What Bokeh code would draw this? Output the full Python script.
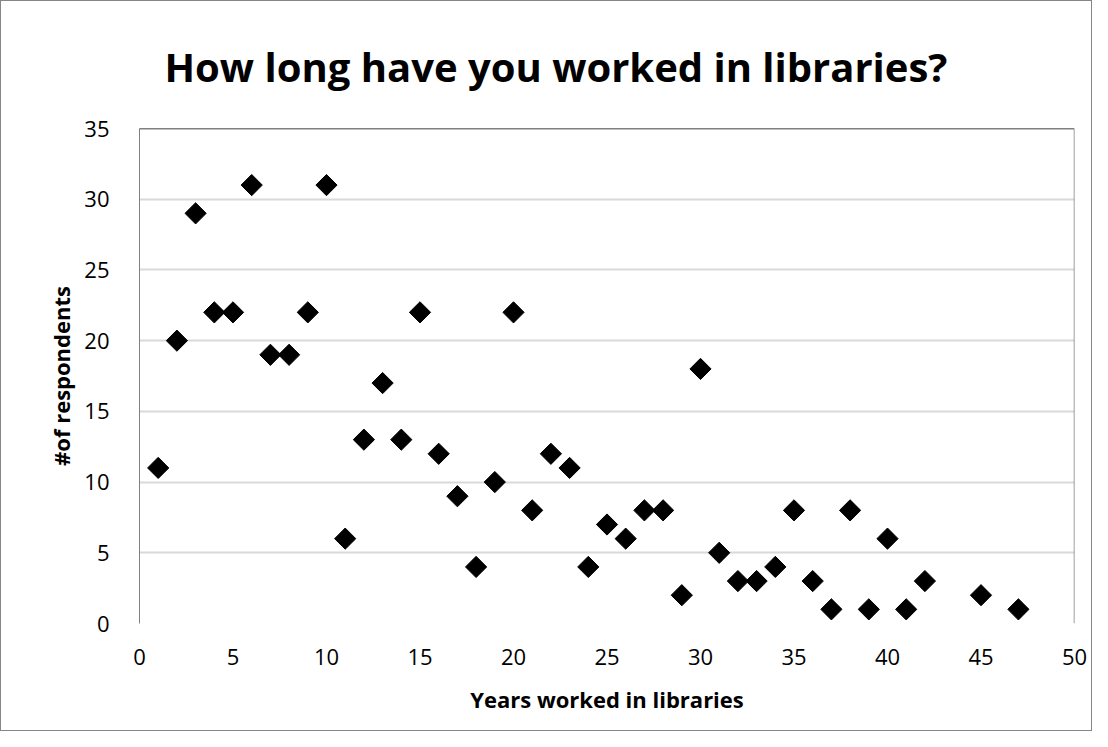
import numpy as np
from bokeh.plotting import figure
from bokeh.models import Range1d, FixedTicker, Span
from bokeh.embed import file_html
from bokeh.resources import INLINE

years = [1, 2, 3, 4, 5, 6, 7, 8, 9, 10, 11, 12, 13, 14, 15, 16, 17, 18, 19, 20,
         21, 22, 23, 24, 25, 26, 27, 28, 29, 30, 31, 32, 33, 34, 35, 36, 37, 38,
         39, 40, 41, 42, 45, 47]
respondents = [11, 20, 29, 22, 22, 31, 19, 19, 22, 31, 6, 13, 17, 13, 22, 12, 9, 4,
               10, 22, 8, 12, 11, 4, 7, 6, 8, 8, 2, 18, 5, 3, 3, 4, 8, 3, 1, 8, 1,
               6, 1, 3, 2, 1]
x_ticks = [0, 5, 10, 15, 20, 25, 30, 35, 40, 45, 50]
y_ticks = [0, 5, 10, 15, 20, 25, 30, 35]

FONT = "Open Sans"

W, H = 1092, 731
p = figure(width=W, height=H, output_backend="svg", toolbar_location=None,
           x_range=Range1d(0, 50), y_range=Range1d(0, 35),
           min_border_left=138, min_border_right=19,
           min_border_top=126, min_border_bottom=109,
           title="How long have you worked in libraries?")

p.styles = {"border": "1px solid #868686", "box-sizing": "border-box"}

p.title.align = "left"
p.title.text_font = FONT
p.title.text_font_size = "40px"
p.title.text_font_style = "bold"
p.title.text_color = "#000000"
p.title.offset = 25
p.title.standoff = 70

p.outline_line_color = None
p.background_fill_color = "white"
p.border_fill_color = "white"

p.xaxis.ticker = FixedTicker(ticks=x_ticks)
p.yaxis.ticker = FixedTicker(ticks=y_ticks)
p.xaxis.axis_label = "Years worked in libraries"
p.yaxis.axis_label = "#of respondents"
for ax in (p.xaxis, p.yaxis):
    ax.major_label_text_font = FONT
    ax.major_label_text_font_size = "22px"
    ax.major_label_text_color = "#000000"
    ax.axis_label_text_font = FONT
    ax.axis_label_text_font_size = "22px"
    ax.axis_label_text_font_style = "bold"
    ax.axis_label_text_color = "#000000"
    ax.major_tick_line_color = None
    ax.minor_tick_line_color = None
p.xaxis.axis_line_color = None
p.yaxis.axis_line_color = "#808080"
p.yaxis.axis_line_width = 1
p.xaxis.major_label_standoff = 19
p.xaxis.axis_label_standoff = 16
p.yaxis.major_label_standoff = 24
p.yaxis.axis_label_standoff = 5

p.xgrid.grid_line_color = None
p.ygrid.grid_line_color = "#d9d9d9"
p.ygrid.grid_line_width = 2

p.add_layout(Span(location=35, dimension="width", line_color="#000000", line_width=1.5))
p.add_layout(Span(location=50, dimension="height", line_color="#808080", line_width=1.5))

p.scatter(years, respondents, marker="square", angle=np.pi / 4, size=15,
          fill_color="#000000", line_color="#000000")

open("out.html", "w").write(file_html(p, INLINE))
